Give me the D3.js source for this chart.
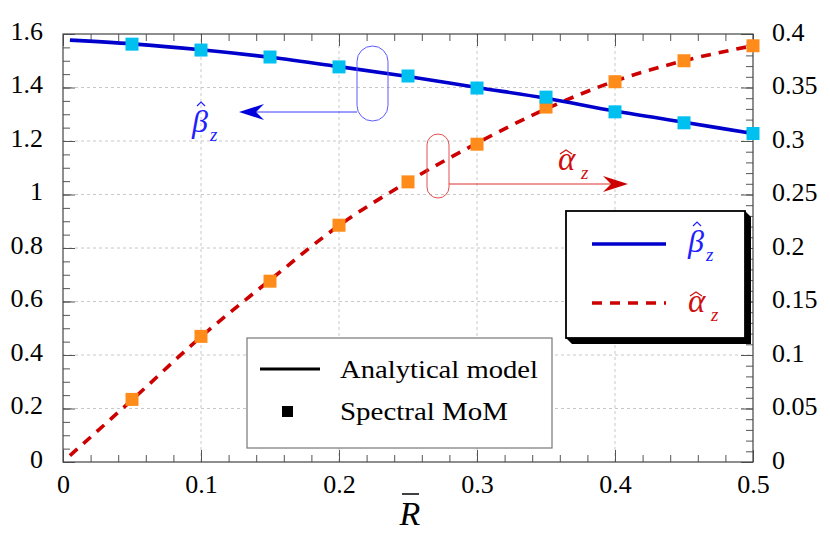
<!DOCTYPE html>
<html>
<head>
<meta charset="utf-8">
<script src="https://cdn.jsdelivr.net/npm/d3@7"></script>
<style>
  body { margin: 0; background: #fff; }
  svg text { font-family: "Liberation Serif", "Times New Roman", "DejaVu Serif", serif !important; }
</style>
</head>
<body>
<div id="app"></div>
<script>
// 数据
const rMarks = [0.05, 0.1, 0.15, 0.2, 0.25, 0.3, 0.35, 0.4, 0.45, 0.5];
const betaMoM = [1.562, 1.540, 1.514, 1.477, 1.443, 1.398, 1.364, 1.309, 1.268, 1.228];
const alphaMoM = [0.0585, 0.1174, 0.169, 0.2213, 0.2618, 0.297, 0.3317, 0.3554, 0.375, 0.389];

const rLine = [0.005, 0.05, 0.1, 0.15, 0.2, 0.25, 0.3, 0.35, 0.4, 0.45, 0.5];
const betaModel = [1.577, 1.563, 1.541, 1.513, 1.478, 1.441, 1.400, 1.360, 1.312, 1.270, 1.228];
const alphaModel = [0.006, 0.058, 0.117, 0.170, 0.221, 0.262, 0.298, 0.330, 0.356, 0.375, 0.389];

const xTicks = [0, 0.1, 0.2, 0.3, 0.4, 0.5];
const leftTicks = [0, 0.2, 0.4, 0.6, 0.8, 1, 1.2, 1.4, 1.6];
const rightTicks = [0, 0.05, 0.1, 0.15, 0.2, 0.25, 0.3, 0.35, 0.4];

const width = 830, height = 552;
const padding = { left: 63, right: 77, top: 34, bottom: 90 };
const x0 = padding.left, x1 = width - padding.right;
const y0 = height - padding.bottom, y1 = padding.top;
const serif = '"Liberation Serif", "Times New Roman", "DejaVu Serif", serif';

const svg = d3.select('#app').append('svg')
    .attr('width', width).attr('height', height)
    .attr('font-family', serif);

// 比例尺
const xScale = d3.scaleLinear().domain([0, 0.5]).range([x0, x1]);
const yLeft = d3.scaleLinear().domain([0, 1.6]).range([y0, y1]);
const yRight = d3.scaleLinear().domain([0, 0.4]).range([y0, y1]);

// 网格
const grid = svg.append('g').attr('stroke', '#c8c8c8').attr('stroke-width', 1)
    .attr('stroke-dasharray', '3,3');
grid.selectAll('.gx').data(xTicks.slice(1, -1)).enter().append('line')
    .attr('x1', d => xScale(d)).attr('x2', d => xScale(d))
    .attr('y1', y0).attr('y2', y1);
grid.selectAll('.gy').data(leftTicks.slice(1, -1)).enter().append('line')
    .attr('x1', x0).attr('x2', x1)
    .attr('y1', d => yLeft(d)).attr('y2', d => yLeft(d));

// 坐标轴
const minor = (a, b, s) => d3.range(Math.round((b - a) / s) + 1).map(i => a + i * s);
const styleAxis = (g) => {
    g.attr('font-family', serif);
    g.select('.domain').remove();
    g.selectAll('line').attr('stroke', '#555');
    g.selectAll('text').attr('font-size', 26).attr('fill', '#000').attr('font-family', serif);
};
const fmt = d3.format('~g');

svg.append('g').attr('transform', `translate(0,${y0})`)
    .call(d3.axisBottom(xScale).tickValues(minor(0, 0.5, 0.02)).tickSize(-7).tickFormat(''))
    .call(styleAxis);
svg.append('g').attr('transform', `translate(0,${y0})`)
    .call(d3.axisBottom(xScale).tickValues(xTicks).tickSize(-12).tickPadding(13).tickFormat(fmt))
    .call(styleAxis);
svg.append('g').attr('transform', `translate(0,${y1})`)
    .call(d3.axisTop(xScale).tickValues(minor(0, 0.5, 0.02)).tickSize(-7).tickFormat(''))
    .call(styleAxis);
svg.append('g').attr('transform', `translate(0,${y1})`)
    .call(d3.axisTop(xScale).tickValues(xTicks).tickSize(-12).tickFormat(''))
    .call(styleAxis);

svg.append('g').attr('transform', `translate(${x0},0)`)
    .call(d3.axisLeft(yLeft).tickValues(minor(0, 1.6, 0.05)).tickSize(-7).tickFormat(''))
    .call(styleAxis);
svg.append('g').attr('transform', `translate(${x0},0)`)
    .call(d3.axisLeft(yLeft).tickValues(leftTicks).tickSize(-12).tickPadding(20).tickFormat(fmt))
    .call(styleAxis)
    .call(g => g.selectAll('text').attr('dy', '0.2em'));
svg.append('g').attr('transform', `translate(${x1},0)`)
    .call(d3.axisRight(yRight).tickValues(minor(0, 0.4, 0.01)).tickSize(-7).tickFormat(''))
    .call(styleAxis);
svg.append('g').attr('transform', `translate(${x1},0)`)
    .call(d3.axisRight(yRight).tickValues(rightTicks).tickSize(-12).tickPadding(19).tickFormat(fmt))
    .call(styleAxis)
    .call(g => g.selectAll('text').attr('dy', '0.24em'));

svg.append('rect').attr('x', x0).attr('y', y1).attr('width', x1 - x0).attr('height', y0 - y1)
    .attr('fill', 'none').attr('stroke', '#444').attr('stroke-width', 1.2);

// 轴标题
svg.append('text').attr('x', 410).attr('y', 525).attr('text-anchor', 'middle')
    .attr('font-size', 34).attr('font-style', 'italic').text('R');
svg.append('line').attr('x1', 402).attr('x2', 419).attr('y1', 494).attr('y2', 494)
    .attr('stroke', '#000').attr('stroke-width', 1.5);

// 曲线
const lineB = d3.line().x((d, i) => xScale(rLine[i])).y(d => yLeft(d)).curve(d3.curveMonotoneX);
const lineA = d3.line().x((d, i) => xScale(rLine[i])).y(d => yRight(d)).curve(d3.curveMonotoneX);
svg.append('path').attr('d', lineA(alphaModel)).attr('fill', 'none')
    .attr('stroke', '#cc0000').attr('stroke-width', 3.6).attr('stroke-dasharray', '10,8');
svg.append('path').attr('d', lineB(betaModel)).attr('fill', 'none')
    .attr('stroke', '#0000cc').attr('stroke-width', 3.6);

// 方块
const ms = 13;
svg.selectAll('.ma').data(alphaMoM).enter().append('rect')
    .attr('x', (d, i) => xScale(rMarks[i]) - ms / 2).attr('y', d => yRight(d) - ms / 2)
    .attr('width', ms).attr('height', ms).attr('fill', '#ff8c1a');
svg.selectAll('.mb').data(betaMoM).enter().append('rect')
    .attr('x', (d, i) => xScale(rMarks[i]) - ms / 2).attr('y', d => yLeft(d) - ms / 2)
    .attr('width', ms).attr('height', ms).attr('fill', '#00c0f0');

// 数学符号: 字母 + 帽子 + 下标 z
const mathLabel = (x, base, sym, color) => {
    const isBeta = sym === 'β';
    const g = svg.append('g');
    g.append('text').attr('x', x).attr('y', base).attr('font-size', isBeta ? 32 : 33)
        .attr('font-style', 'italic').attr('fill', color).text(sym);
    const hx = x + (isBeta ? 9 : 8), hy = base - (isBeta ? 30 : 20), hw = isBeta ? 4 : 6;
    g.append('path').attr('d', `M${hx - hw},${hy + 4} L${hx},${hy} L${hx + hw},${hy + 4}`)
        .attr('fill', 'none').attr('stroke', color).attr('stroke-width', 1.2);
    g.append('text').attr('x', x + (isBeta ? 18 : 23)).attr('y', base + 9).attr('font-size', 19)
        .attr('font-style', 'italic').attr('fill', color).text('z');
};

// 标注
svg.append('rect').attr('x', 357).attr('y', 46).attr('width', 31).attr('height', 75)
    .attr('rx', 15.5).attr('fill', 'none').attr('stroke', '#5a5aff').attr('stroke-width', 1);
svg.append('line').attr('x1', 357).attr('x2', 250).attr('y1', 112).attr('y2', 112)
    .attr('stroke', '#3a3aff').attr('stroke-width', 1);
svg.append('path').attr('d', 'M239,112 L264,104 L256,112 L264,120 Z').attr('fill', '#0000dd');
mathLabel(192, 132, 'β', '#2020ff');

svg.append('rect').attr('x', 427).attr('y', 134).attr('width', 22).attr('height', 64)
    .attr('rx', 11).attr('fill', 'none').attr('stroke', '#e05050').attr('stroke-width', 1);
svg.append('line').attr('x1', 449).attr('x2', 615).attr('y1', 184).attr('y2', 184)
    .attr('stroke', '#e03030').attr('stroke-width', 1);
svg.append('path').attr('d', 'M628,184 L603,176 L611,184 L603,192 Z').attr('fill', '#cc0000');
mathLabel(558, 170, 'α', '#d01010');

// 图例 1
svg.append('path').attr('d', 'M745,211 L751,217 L751,344 L572,344 L566,338 Z').attr('fill', '#000');
svg.append('rect').attr('x', 566).attr('y', 211).attr('width', 179).attr('height', 127)
    .attr('fill', '#fff').attr('stroke', '#000').attr('stroke-width', 1.8);
svg.append('line').attr('x1', 592).attr('x2', 666).attr('y1', 244).attr('y2', 244)
    .attr('stroke', '#0000cc').attr('stroke-width', 3.6);
svg.append('line').attr('x1', 592).attr('x2', 666).attr('y1', 303).attr('y2', 303)
    .attr('stroke', '#cc0000').attr('stroke-width', 3.6).attr('stroke-dasharray', '10,8');
mathLabel(688, 252, 'β', '#2020ff');
mathLabel(688, 312, 'α', '#d01010');

// 图例 2
svg.append('rect').attr('x', 247).attr('y', 338).attr('width', 305).attr('height', 110)
    .attr('fill', '#fff').attr('stroke', '#777').attr('stroke-width', 1.2);
svg.append('line').attr('x1', 260).attr('x2', 320).attr('y1', 369).attr('y2', 369)
    .attr('stroke', '#000').attr('stroke-width', 3);
svg.append('rect').attr('x', 282).attr('y', 406).attr('width', 11).attr('height', 11).attr('fill', '#000');
svg.append('text').attr('x', 340).attr('y', 378).attr('font-size', 26)
    .attr('textLength', 198).attr('lengthAdjust', 'spacingAndGlyphs').text('Analytical model');
svg.append('text').attr('x', 340).attr('y', 420).attr('font-size', 26)
    .attr('textLength', 168).attr('lengthAdjust', 'spacingAndGlyphs').text('Spectral MoM');
</script>
</body>
</html>
